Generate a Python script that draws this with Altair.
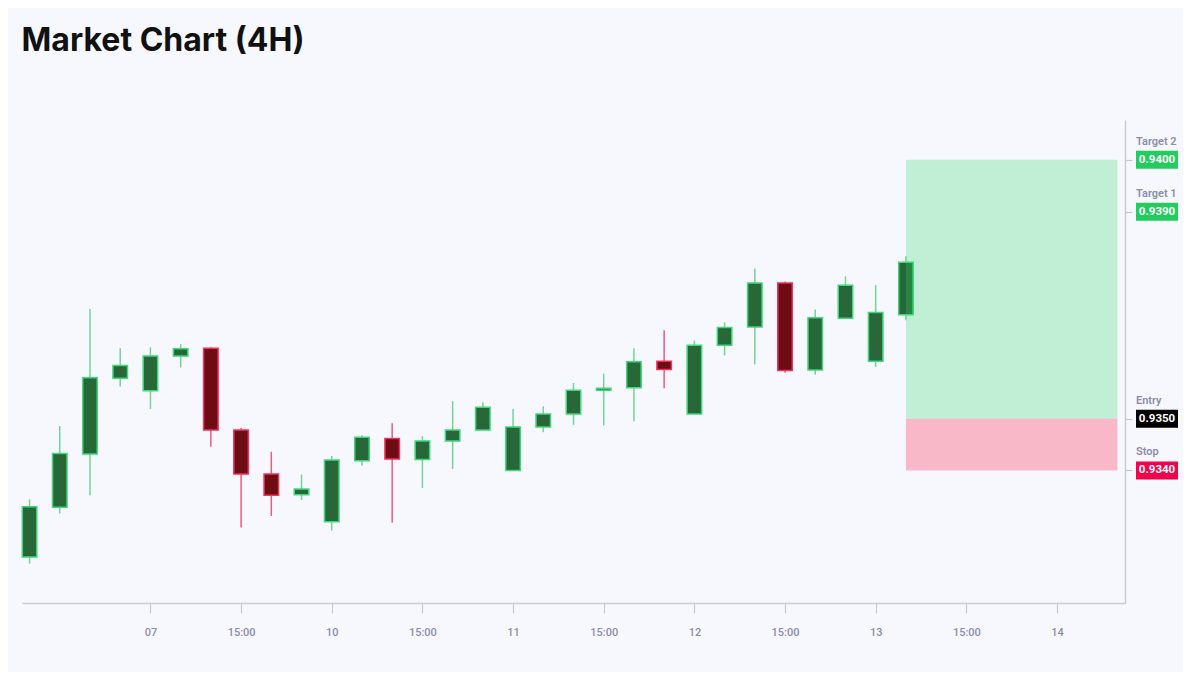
import altair as alt
import pandas as pd

# ---- candle data (4H) ----
candle_idx = list(range(30))
opens  = [0.93233, 0.93329, 0.93432, 0.93578, 0.93554, 0.93621, 0.93636, 0.93478, 0.93393, 0.93353,
          0.93301, 0.93419, 0.93462, 0.93421, 0.93457, 0.93478, 0.93400, 0.93484, 0.93509, 0.93555,
          0.93560, 0.93611, 0.93509, 0.93642, 0.93677, 0.93762, 0.93594, 0.93694, 0.93611, 0.93701]
highs  = [0.93344, 0.93486, 0.93712, 0.93636, 0.93638, 0.93644, 0.93638, 0.93482, 0.93436, 0.93392,
          0.93428, 0.93468, 0.93491, 0.93466, 0.93534, 0.93532, 0.93519, 0.93524, 0.93569, 0.93587,
          0.93636, 0.93671, 0.93651, 0.93686, 0.93790, 0.93765, 0.93711, 0.93775, 0.93758, 0.93814]
lows   = [0.93220, 0.93317, 0.93352, 0.93562, 0.93519, 0.93599, 0.93446, 0.93290, 0.93312, 0.93343,
          0.93284, 0.93409, 0.93299, 0.93366, 0.93403, 0.93478, 0.93400, 0.93474, 0.93488, 0.93487,
          0.93495, 0.93559, 0.93509, 0.93622, 0.93605, 0.93589, 0.93585, 0.93694, 0.93600, 0.93690]
closes = [0.93330, 0.93433, 0.93579, 0.93603, 0.93621, 0.93635, 0.93478, 0.93393, 0.93352, 0.93364,
          0.93420, 0.93464, 0.93422, 0.93457, 0.93478, 0.93522, 0.93484, 0.93509, 0.93555, 0.93559,
          0.93610, 0.93595, 0.93642, 0.93676, 0.93762, 0.93593, 0.93695, 0.93758, 0.93705, 0.93802]

# ---- x axis ticks ----
tick_pos = [4, 7, 10, 13, 16, 19, 22, 25, 28, 31, 34]
tick_labels = ["07", "15:00", "10", "15:00", "11", "15:00", "12", "15:00", "13", "15:00", "14"]

# ---- trade levels ----
level_prices = [0.9400, 0.9390, 0.9350, 0.9340]
level_names = ["Target 2", "Target 1", "Entry", "Stop"]
level_text = ["0.9400", "0.9390", "0.9350", "0.9340"]
level_colors = ["#22cc5e", "#22cc5e", "#000000", "#f0044c"]

zone_start = 29
zone_end = 36
entry = 0.9350
target = 0.9400
stop = 0.9340

# ---- build tables ----
df = pd.DataFrame({"i": candle_idx, "open": opens, "high": highs, "low": lows, "close": closes})
df["dir"] = ["up" if c >= o else "down" for o, c in zip(opens, closes)]
df["body_lo"] = df[["open", "close"]].min(axis=1)
df["body_hi"] = df[["open", "close"]].max(axis=1)

zones = pd.DataFrame({
    "x0": [zone_start, zone_start],
    "x1": [zone_end, zone_end],
    "y0": [entry, stop],
    "y1": [target, entry],
    "kind": ["profit", "loss"],
})

levels = pd.DataFrame({"price": level_prices, "name": level_names, "txt": level_text})

AXIS_GRAY = "#c9cad4"
LABEL_GRAY = "#8b8daa"
FONT = "Roboto"

label_arr = "[" + ",".join("'%s'" % t for t in tick_labels) + "]"
x_axis = alt.Axis(values=tick_pos, labelExpr=label_arr + "[round((datum.value-4)/3)]",
                  grid=False, title=None, tickSize=10, tickColor=AXIS_GRAY, domainColor=AXIS_GRAY,
                  labelColor=LABEL_GRAY, labelFont=FONT, labelFontSize=11, labelFontWeight=500,
                  labelPadding=13, domainWidth=1.5, tickWidth=1.2)
y_axis = alt.Axis(orient="right", values=level_prices, labels=False, grid=False, title=None,
                  tickSize=7, tickColor=AXIS_GRAY, domainColor=AXIS_GRAY, domainWidth=1.5, tickWidth=1.2)
x_scale = alt.Scale(domain=[-0.25, 36.25], nice=False, zero=False, padding=0)
y_scale = alt.Scale(domain=[0.93144, 0.94077], nice=False, zero=False, padding=0)

base = alt.Chart(df)

wicks = base.mark_rule(strokeWidth=1.5).encode(
    x=alt.X("i:Q", scale=x_scale, axis=x_axis),
    y=alt.Y("low:Q", scale=y_scale, axis=y_axis),
    y2="high:Q",
    color=alt.condition(alt.datum.dir == "up", alt.value("#72d596"), alt.value("#f2587c")),
)

bodies = base.mark_bar(size=14.5, strokeWidth=1.5).encode(
    x=alt.X("i:Q", scale=x_scale, axis=x_axis),
    y=alt.Y("body_lo:Q", scale=y_scale, axis=y_axis),
    y2="body_hi:Q",
    fill=alt.condition(alt.datum.dir == "up", alt.value("#276738"), alt.value("#6e0c14")),
    stroke=alt.condition(alt.datum.dir == "up", alt.value("#3ed87a"), alt.value("#f0325f")),
)

zone_layer = alt.Chart(zones).mark_rect().encode(
    x=alt.X("x0:Q", scale=x_scale, axis=x_axis),
    x2="x1:Q",
    y=alt.Y("y0:Q", scale=y_scale, axis=y_axis),
    y2="y1:Q",
    fill=alt.condition(alt.datum.kind == "profit", alt.value("#2bd66a"), alt.value("#ff1a4a")),
    opacity=alt.condition(alt.datum.kind == "profit", alt.value(0.27), alt.value(0.29)),
)

lvl = alt.Chart(levels)
boxes = lvl.mark_point(shape="M-2.333,-1H2.333V1H-2.333Z", size=324, filled=True,
                       opacity=1, strokeWidth=0).encode(
    x=alt.value(1135),
    y=alt.Y("price:Q", scale=y_scale, axis=y_axis),
    fill=alt.Fill("name:N", scale=alt.Scale(domain=level_names, range=level_colors), legend=None),
)
box_text = lvl.mark_text(color="white", font=FONT, fontSize=11.5, fontWeight="bold",
                         align="center", baseline="middle").encode(
    x=alt.value(1135),
    y=alt.Y("price:Q", scale=y_scale, axis=y_axis),
    text="txt:N",
)
name_text = lvl.mark_text(color=LABEL_GRAY, font=FONT, fontSize=11, fontWeight=600,
                          align="left", baseline="middle", dy=-18).encode(
    x=alt.value(1114),
    y=alt.Y("price:Q", scale=y_scale, axis=y_axis),
    text="name:N",
)

chart = alt.layer(wicks, bodies, zone_layer, boxes, box_text, name_text).properties(
    width=1103,
    height=483,
    padding={"left": 13, "top": 17, "right": 5, "bottom": 35},
    background="#f7f8fd",
    title=alt.TitleParams("Market Chart (4H)", anchor="start", fontSize=32, font="Inter",
                          fontWeight="bold", color="#111111", offset=62),
).configure_view(stroke=None)

chart.save("out.html", embed_options={"renderer": "svg", "actions": False})
